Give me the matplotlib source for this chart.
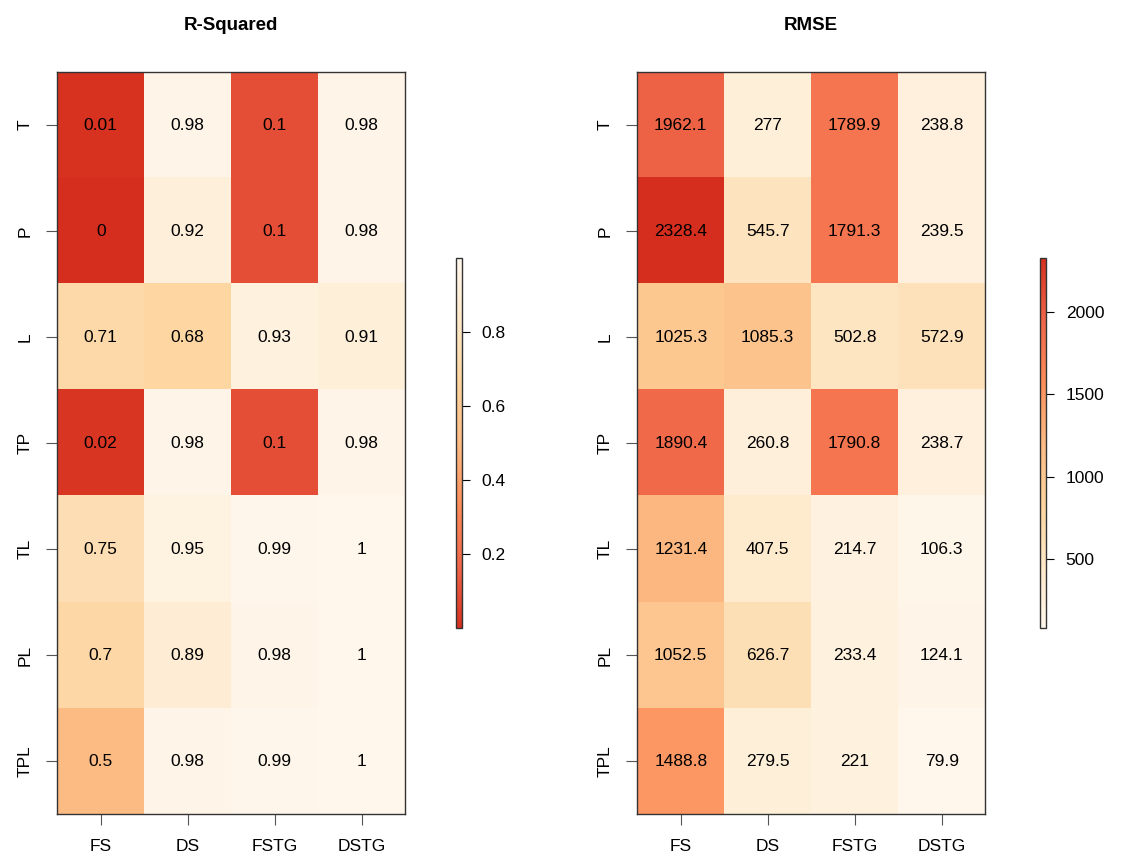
import numpy as np
import matplotlib
matplotlib.use("Agg")
import matplotlib.pyplot as plt
from matplotlib.colors import ListedColormap

plt.rcParams['font.family'] = ['Liberation Sans', 'DejaVu Sans']

# data
models = ["FS", "DS", "FSTG", "DSTG"]
inputs = ["T", "P", "L", "TP", "TL", "PL", "TPL"]

r2 = [
    [0.01, 0.98, 0.1, 0.98],
    [0, 0.92, 0.1, 0.98],
    [0.71, 0.68, 0.93, 0.91],
    [0.02, 0.98, 0.1, 0.98],
    [0.75, 0.95, 0.99, 1],
    [0.7, 0.89, 0.98, 1],
    [0.5, 0.98, 0.99, 1],
]
rmse = [
    [1962.1, 277, 1789.9, 238.8],
    [2328.4, 545.7, 1791.3, 239.5],
    [1025.3, 1085.3, 502.8, 572.9],
    [1890.4, 260.8, 1790.8, 238.7],
    [1231.4, 407.5, 214.7, 106.3],
    [1052.5, 626.7, 233.4, 124.1],
    [1488.8, 279.5, 221, 79.9],
]

# cream -> red part of OrRd
base = plt.get_cmap("OrRd")
cmap = ListedColormap(base(np.linspace(0.0, 0.75, 256)))
cmap_r = cmap.reversed()


def fmt(v):
    return "%g" % v


def heat(ax, cax, data, cm, title, ticks):
    data = np.array(data, dtype=float)
    im = ax.imshow(data, cmap=cm, aspect="auto", vmin=data.min(), vmax=data.max(),
                   interpolation="nearest")
    for i in range(data.shape[0]):
        for j in range(data.shape[1]):
            ax.text(j, i, fmt(data[i, j]), ha="center", va="center", fontsize=12.5, color="black")
    ax.set_xticks(range(len(models)))
    ax.set_xticklabels(models, fontsize=12.5)
    ax.set_yticks(range(len(inputs)))
    ax.set_yticklabels(inputs, fontsize=12.5, rotation=90, va="center")
    ax.tick_params(length=8, width=0.8, color="#555555", pad=10)
    for s in ax.spines.values():
        s.set_color("#333333")
        s.set_linewidth(1.0)
    ax.set_title(title, fontsize=13.5, fontweight="bold", pad=30)
    cb = plt.colorbar(im, cax=cax, ticks=ticks)
    cb.ax.tick_params(labelsize=12.5, length=6, width=0.8, pad=8)
    cb.outline.set_linewidth(1.0)
    cb.outline.set_edgecolor("#333333")


fig = plt.figure(figsize=(11.22, 8.63), dpi=100)
ax1 = fig.add_axes([0.051, 0.0565, 0.310, 0.860])
cax1 = fig.add_axes([0.406, 0.272, 0.0055, 0.429])
ax2 = fig.add_axes([0.568, 0.0565, 0.310, 0.860])
cax2 = fig.add_axes([0.927, 0.272, 0.0055, 0.429])

heat(ax1, cax1, r2, cmap_r, "R-Squared", [0.2, 0.4, 0.6, 0.8])
heat(ax2, cax2, rmse, cmap, "RMSE", [500, 1000, 1500, 2000])

fig.savefig("out.png", dpi=100, facecolor="white")
